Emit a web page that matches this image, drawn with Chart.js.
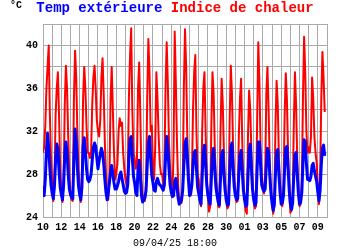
<!DOCTYPE html>
<html>
<head>
<meta charset="utf-8">
<script src="https://cdn.jsdelivr.net/npm/chart.js@4.4.1/dist/chart.umd.min.js"></script>
<style>
  html, body { margin: 0; padding: 0; background: #fff; }
  #wrap { position: relative; width: 350px; height: 250px; overflow: hidden; }
  #c { position: absolute; left: 0; top: 0; }
  .txt { position: absolute; white-space: pre; font-family: "Liberation Mono", "DejaVu Sans Mono", monospace; }
  #unit { left: 10px; top: 1px; font-size: 10px; line-height: 10px; font-weight: bold; color: #000; }
  #title { left: 0; width: 350px; top: 1px; text-align: center; font-size: 14px; line-height: 14px; font-weight: bold; }
  #stamp { left: 0; width: 350px; top: 239px; text-align: center; font-size: 10px; line-height: 10px; color: #000; }
</style>
</head>
<body>
<div id="wrap">
  <canvas id="c" width="350" height="250"></canvas>
  <div id="unit" class="txt">°C</div>
  <div id="title" class="txt"><span style="color:#0000ff">Temp extérieure</span> <span style="color:#ff0000">Indice de chaleur</span></div>
  <div id="stamp" class="txt">09/04/25 18:00</div>
</div>
<script>
// Day-of-month labels, one per day starting 10 March (axis runs 10/03 00:00 -> 10/04 00:00)
const dayLabels = ['10','11','12','13','14','15','16','17','18','19','20','21','22','23','24','25','26','27','28','29','30','31','01','02','03','04','05','06','07','08','09'];
// Y tick values that carry a label
const yLabelValues = [24, 28, 32, 36, 40];
// Sampling step of the series, hours
const stepHours = 3;

// Temp extérieure (°C), every 3 h from 10/03 00:00 to 09/04 18:00
const tempExt = [
  26.9, 26.0, 27.5, 30.2, 31.8, 30.4, 28.5, 27.0,
  26.2, 25.7, 26.9, 29.3, 30.8, 30.4, 28.3, 26.8,
  26.1, 25.6, 27.0, 29.8, 31.0, 30.0, 28.0, 26.6,
  26.1, 25.8, 25.7, 29.5, 32.2, 31.0, 28.6, 26.9,
  26.1, 25.6, 26.8, 30.5, 31.4, 30.2, 28.5, 27.5,
  27.3, 27.5, 28.0, 29.3, 30.5, 30.9, 30.6, 29.5,
  28.5, 29.2, 29.9, 30.4, 30.0, 29.0, 27.5, 26.3,
  25.6, 26.3, 27.2, 28.2, 28.8, 28.0, 27.2, 26.6,
  26.6, 26.9, 27.3, 27.9, 28.2, 27.6, 27.0, 26.4,
  26.2, 26.3, 27.0, 29.5, 31.3, 31.5, 29.5, 27.8,
  27.2, 26.3, 26.0, 28.5, 29.3, 27.8, 26.0, 25.4,
  25.6, 25.8, 26.5, 28.8, 31.0, 31.5, 29.5, 27.9,
  27.2, 26.5, 26.4, 27.3, 27.6, 27.2, 27.0, 26.9,
  26.7, 26.5, 27.0, 29.5, 31.5, 30.5, 28.5, 27.0,
  26.3, 25.9, 26.0, 27.3, 27.6, 26.8, 25.8, 25.2,
  25.4, 25.6, 26.5, 28.8, 30.8, 31.3, 29.5, 27.5,
  26.0, 26.2, 27.0, 28.8, 30.0, 30.2, 28.5, 26.8,
  26.2, 25.6, 25.2, 27.8, 30.0, 30.7, 29.0, 27.0,
  26.0, 25.5, 25.2, 27.5, 29.8, 30.4, 28.5, 26.8,
  26.0, 25.4, 25.1, 27.5, 29.8, 30.2, 28.0, 26.5,
  25.6, 25.1, 25.2, 28.0, 30.5, 30.9, 28.5, 26.8,
  26.0, 25.6, 25.7, 28.0, 29.8, 30.2, 28.2, 26.5,
  25.6, 25.0, 25.1, 27.8, 30.3, 30.8, 28.5, 26.5,
  25.6, 25.1, 25.3, 28.5, 31.0, 31.0, 28.8, 27.0,
  26.6, 26.4, 26.6, 28.8, 30.4, 30.0, 28.0, 26.3,
  25.3, 24.6, 25.2, 28.0, 30.0, 30.3, 28.0, 26.3,
  25.2, 25.3, 26.0, 28.5, 30.4, 30.6, 28.5, 26.5,
  25.2, 24.7, 25.3, 27.8, 29.8, 30.0, 28.0, 26.2,
  25.2, 25.4, 26.3, 29.0, 31.2, 31.0, 29.0, 27.5,
  27.5, 27.4, 27.8, 28.8, 29.0, 28.3, 27.8, 27.3,
  26.3, 25.5, 26.5, 28.8, 30.4, 30.7, 29.7
];

// Indice de chaleur (°C), same timestamps
const heatIndex = [
  30.0, 30.5, 32.5, 36.0, 38.0, 40.0, 33.5, 29.5,
  27.5, 25.5, 27.0, 33.5, 36.0, 37.5, 33.5, 28.5,
  26.5, 25.4, 27.2, 34.5, 38.1, 36.0, 31.5, 28.0,
  26.2, 25.6, 25.5, 35.0, 39.5, 37.0, 32.0, 28.5,
  27.0, 25.4, 27.0, 35.0, 38.0, 36.0, 32.5, 30.0,
  30.0, 29.5, 30.0, 34.5, 37.0, 38.1, 36.0, 33.0,
  32.0, 31.5, 33.0, 37.0, 38.8, 35.5, 31.0, 28.0,
  26.0, 25.6, 27.5, 35.0, 38.0, 34.0, 30.0, 27.5,
  28.0, 29.0, 32.0, 33.2, 32.5, 32.8, 30.0, 28.5,
  27.5, 27.0, 28.0, 35.0, 39.0, 41.6, 34.0, 30.0,
  29.5, 28.5, 29.0, 36.0, 38.4, 33.5, 27.5, 25.5,
  26.0, 25.5, 27.0, 35.0, 40.6, 37.5, 32.0, 32.5,
  28.5, 27.5, 30.5, 37.5, 35.0, 31.5, 29.0, 28.0,
  28.0, 27.0, 28.5, 36.0, 40.3, 36.5, 31.0, 28.5,
  27.0, 26.0, 30.0, 41.3, 36.5, 31.0, 27.0, 25.5,
  25.8, 25.3, 27.0, 36.0, 41.5, 38.0, 31.5, 28.0,
  26.5, 26.0, 27.5, 34.0, 37.5, 39.1, 32.0, 28.0,
  27.5, 25.5, 25.0, 32.0, 36.0, 37.5, 32.0, 27.5,
  26.0, 24.5, 25.0, 32.5, 37.5, 35.5, 30.5, 27.5,
  26.5, 25.0, 24.9, 32.0, 36.9, 34.5, 30.0, 27.0,
  25.8, 24.8, 25.0, 33.0, 38.1, 35.5, 30.5, 27.5,
  26.5, 25.4, 25.5, 31.5, 35.0, 36.9, 31.0, 27.0,
  25.8, 24.6, 24.3, 31.5, 35.8, 34.0, 30.0, 27.0,
  26.0, 24.8, 25.0, 33.0, 40.3, 36.5, 30.5, 28.0,
  27.0, 26.2, 27.5, 35.5, 38.0, 34.0, 29.0, 26.5,
  25.5, 24.3, 25.0, 32.5, 36.7, 34.5, 29.5, 27.0,
  25.5, 25.0, 26.5, 33.5, 37.4, 35.0, 30.0, 27.0,
  24.4, 24.6, 25.5, 32.5, 37.5, 34.5, 29.5, 26.5,
  25.0, 25.2, 27.0, 35.0, 40.8, 37.5, 32.0, 30.0,
  30.5, 30.0, 31.5, 37.0, 35.0, 31.5, 30.0, 29.0,
  27.0, 25.2, 27.5, 35.0, 39.4, 37.0, 33.8
];

const toPoints = arr => arr.map((v, i) => ({ x: i * stepHours / 24, y: v }));
const gridColor = '#aaaaaa';
const tickFont = { family: '"Liberation Mono", "DejaVu Sans Mono", monospace', size: 10, weight: 'bold' };

new Chart(document.getElementById('c'), {
  type: 'line',
  data: {
    datasets: [
      { label: 'Temp extérieure', data: toPoints(tempExt), borderColor: '#0000ff', borderWidth: 3,
        pointRadius: 0, tension: 0, fill: false, borderJoinStyle: 'round', order: 0 },
      { label: 'Indice de chaleur', data: toPoints(heatIndex), borderColor: '#ff0000', borderWidth: 2,
        pointRadius: 0, tension: 0, fill: false, borderJoinStyle: 'round', order: 1 }
    ]
  },
  options: {
    responsive: false,
    animation: false,
    events: [],
    layout: { padding: { left: 0, right: 23, top: 24, bottom: 0 } },
    plugins: { legend: { display: false }, tooltip: { enabled: false }, title: { display: false } },
    scales: {
      x: {
        type: 'linear', min: 0, max: dayLabels.length,
        grid: { color: gridColor, lineWidth: 1, drawTicks: false },
        border: { display: true, color: gridColor, width: 1 },
        ticks: {
          stepSize: 1, autoSkip: false, maxRotation: 0, minRotation: 0, padding: 4,
          color: '#000', font: tickFont,
          callback: v => (Number.isInteger(v) && v % 2 === 0 && v < dayLabels.length) ? dayLabels[v] : ''
        },
        afterFit: s => { s.height = 33; }
      },
      y: {
        type: 'linear', min: 24, max: 42,
        grid: { color: gridColor, lineWidth: 1, drawTicks: false },
        border: { display: true, color: gridColor, width: 1 },
        ticks: {
          stepSize: 2, padding: 5, color: '#000', font: tickFont,
          callback: v => yLabelValues.includes(v) ? String(v) : ''
        },
        afterFit: s => { s.width = 43; }
      }
    }
  }
});
</script>
</body>
</html>
